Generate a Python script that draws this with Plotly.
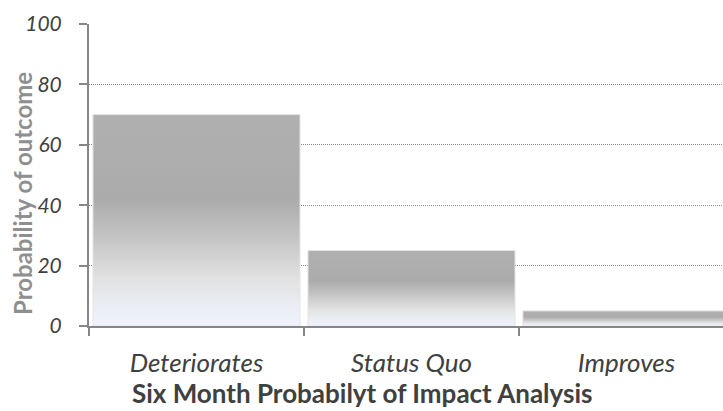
import plotly.graph_objects as go

categories = ["Deteriorates", "Status Quo", "Improves"]
values = [70, 25, 5]
y_ticks = [0, 20, 40, 60, 80, 100]

x_title = "Six Month Probabilyt of Impact Analysis"
y_title = "Probability of outcome"

bar_width = 0.963
gradient = [
    [0.0, "#eef3fc"],
    [0.10, "#eaedf3"],
    [0.22, "#e2e2e2"],
    [0.42, "#c4c4c4"],
    [0.60, "#ababab"],
    [1.0, "#b0b0b0"],
]

fig = go.Figure()
for i, (cat, v) in enumerate(zip(categories, values)):
    x0, x1 = i - bar_width / 2, i + bar_width / 2
    fig.add_trace(go.Scatter(
        x=[x0, x1, x1, x0, x0],
        y=[0, 0, v, v, 0],
        mode="lines",
        fill="toself",
        fillgradient=dict(type="vertical", colorscale=gradient),
        line=dict(color="#e4e4e4", width=1),
        name=cat,
        showlegend=False,
        hoverinfo="skip",
    ))

xtickfont = dict(family="Lato", size=26, color="#404040", style="italic")
ytickfont = dict(family="Lato", size=21, color="#404040", style="italic")

fig.update_layout(
    width=723, height=411,
    margin=dict(l=89, r=0, t=24, b=85),
    paper_bgcolor="white", plot_bgcolor="white",
    showlegend=False,
    xaxis=dict(
        automargin=False,
        range=[-0.5, 2.449],
        tickmode="array",
        tickvals=list(range(len(categories))),
        ticktext=categories,
        ticks="",
        tickfont=xtickfont,
        ticklabelstandoff=13,
        showgrid=False,
        zeroline=False,
        showline=True, linecolor="#868686", linewidth=2,
        minor=dict(
            tickmode="array",
            tickvals=[i - 0.5 for i in range(len(categories) + 1)],
            ticks="outside", ticklen=8, tickcolor="#868686", tickwidth=2,
            showgrid=False,
        ),
    ),
    yaxis=dict(
        automargin=False,
        range=[0, 100],
        tickmode="array",
        tickvals=y_ticks,
        ticks="outside", ticklen=8, tickcolor="#868686", tickwidth=2,
        tickfont=ytickfont,
        ticklabelstandoff=13,
        showgrid=True, gridcolor="#8c8c8c", gridwidth=1, griddash="1px,1px",
        zeroline=False,
        showline=True, linecolor="#868686", linewidth=2,
    ),
    annotations=[
        dict(text=y_title, textangle=-90, xref="paper", yref="paper",
             x=(22 - 89) / 634, y=(326 - 194) / 302, xanchor="center", yanchor="middle",
             showarrow=False,
             font=dict(family="Lato", size=24, color="#8f8f8f", weight="bold")),
        dict(text=x_title, xref="paper", yref="paper",
             x=(362 - 89) / 634, y=(326 - 393) / 302, xanchor="center", yanchor="middle",
             showarrow=False,
             font=dict(family="Lato", size=26, color="#404040", weight="bold")),
    ],
)

fig.write_html("out.html", config={"displayModeBar": False},
               post_script="document.body.style.margin='0';")
